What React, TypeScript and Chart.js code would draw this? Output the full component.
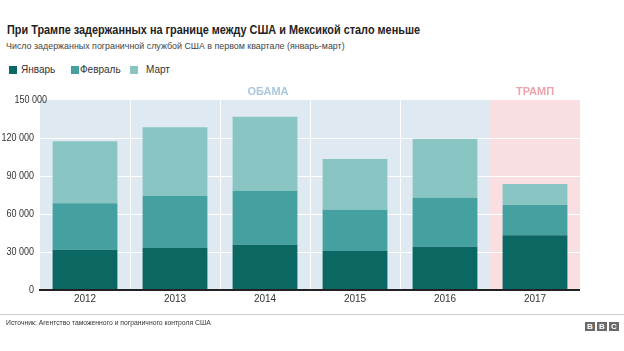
import React, { useEffect, useRef } from "react";
import { Chart, registerables } from "chart.js";

Chart.register(...registerables);

const years = ["2012", "2013", "2014", "2015", "2016", "2017"];
const january = [31800, 33200, 35800, 30800, 34200, 43200];
const february = [36600, 41000, 42600, 32600, 38700, 23900];
const march = [49000, 54200, 58400, 40000, 46600, 16600];
const yTicks = [0, 30000, 60000, 90000, 120000, 150000];
const yTickLabels = ["0", "30 000", "60 000", "90 000", "120 000", "150 000"];
const obamaYears = 5; // first 5 categories
const seriesNames = ["Январь", "Февраль", "Март"];
const seriesColors = ["#0b6762", "#45a19f", "#88c5c3"];

const FONT = "'Liberation Sans', Arial, Helvetica, sans-serif";

const decorPlugin = {
  id: "decor",
  beforeDatasetsDraw(chart: any) {
    const { ctx, chartArea } = chart;
    const x = chart.scales.x;
    const y = chart.scales.y;
    const top = y.getPixelForValue(150000);
    const bottom = y.getPixelForValue(0);
    const split = (x.getPixelForValue(obamaYears - 1) + x.getPixelForValue(obamaYears)) / 2;
    ctx.save();
    ctx.fillStyle = "#dfe9f1";
    ctx.fillRect(chartArea.left, top, split - chartArea.left, bottom - top);
    ctx.fillStyle = "#f9dfe1";
    ctx.fillRect(split, top, chartArea.right - split, bottom - top);
    ctx.strokeStyle = "#ffffff";
    ctx.lineWidth = 1;
    yTicks.forEach((v) => {
      if (v === 0 || v === 150000) return;
      const py = Math.round(y.getPixelForValue(v)) + 0.5;
      ctx.beginPath();
      ctx.moveTo(chartArea.left, py);
      ctx.lineTo(chartArea.right, py);
      ctx.stroke();
    });
    for (let i = 0; i < obamaYears - 1; i++) {
      const px = Math.round((x.getPixelForValue(i) + x.getPixelForValue(i + 1)) / 2) + 0.5;
      ctx.beginPath();
      ctx.moveTo(px, top);
      ctx.lineTo(px, bottom);
      ctx.stroke();
    }
    ctx.restore();
  },
  afterDatasetsDraw(chart: any) {
    const { ctx, chartArea } = chart;
    const x = chart.scales.x;
    const y = chart.scales.y;
    const top = y.getPixelForValue(150000);
    const bottom = y.getPixelForValue(0);
    const split = (x.getPixelForValue(obamaYears - 1) + x.getPixelForValue(obamaYears)) / 2;
    ctx.save();
    ctx.strokeStyle = "#222222";
    ctx.lineWidth = 2;
    ctx.beginPath();
    ctx.moveTo(chartArea.left - 1, bottom);
    ctx.lineTo(chartArea.right, bottom);
    ctx.stroke();

    ctx.font = `10px ${FONT}`;
    ctx.fillStyle = "#333333";
    ctx.textBaseline = "middle";
    ctx.textAlign = "right";
    yTicks.forEach((v, i) => {
      const py = y.getPixelForValue(v);
      const rx = v === 150000 ? chartArea.left + 7 : chartArea.left - 6;
      ctx.save();
      ctx.translate(rx, py);
      ctx.scale(0.9, 1);
      ctx.fillText(yTickLabels[i], 0, 0);
      ctx.restore();
    });
    ctx.textAlign = "center";
    years.forEach((lab, i) => {
      ctx.fillText(lab, x.getPixelForValue(i), bottom + 9);
    });

    ctx.font = `bold 11px ${FONT}`;
    ctx.fillStyle = "#a9c8dd";
    ctx.fillText("ОБАМА", (chartArea.left + split) / 2 + 3, top - 8);
    ctx.fillStyle = "#eba4ac";
    ctx.fillText("ТРАМП", (split + chartArea.right) / 2, top - 8);
    ctx.restore();
  },
};

export default function App() {
  const canvasRef = useRef<HTMLCanvasElement | null>(null);

  useEffect(() => {
    const seriesData = [january, february, march];
    const chart = new Chart(canvasRef.current as HTMLCanvasElement, {
      type: "bar",
      data: {
        labels: years,
        datasets: seriesNames.map((name, i) => ({
          label: name,
          data: seriesData[i],
          backgroundColor: seriesColors[i],
          borderWidth: 0,
          categoryPercentage: 1,
          barPercentage: 0.72,
        })),
      },
      options: {
        animation: false,
        responsive: false,
        maintainAspectRatio: false,
        layout: { padding: { left: 40, right: 44, top: 100, bottom: 61 } },
        plugins: {
          legend: { display: false },
          tooltip: { enabled: false },
          title: { display: false },
        },
        scales: {
          x: { stacked: true, display: false },
          y: { stacked: true, display: false, min: 0, max: 150000 },
        },
      },
      plugins: [decorPlugin],
    });
    return () => chart.destroy();
  }, []);

  const squareLefts = [9, 71, 130];
  const textLefts = [21, 80, 146];

  const bbcBox = (ch: string, left: number) => (
    <div
      key={left}
      style={{
        position: "absolute",
        left,
        top: 322,
        width: 10,
        height: 9,
        background: "#6a6a6a",
        color: "#fff",
        fontSize: 8,
        fontWeight: "bold",
        lineHeight: "9px",
        textAlign: "center",
      }}
    >
      {ch}
    </div>
  );

  return (
    <div
      style={{
        position: "fixed",
        left: 0,
        top: 0,
        width: 624,
        height: 351,
        background: "#ffffff",
        fontFamily: FONT,
        overflow: "hidden",
      }}
    >
      <div
        style={{
          position: "absolute",
          left: 7,
          top: 23,
          fontSize: 12.5,
          lineHeight: "14px",
          fontWeight: "bold",
          color: "#222",
          whiteSpace: "nowrap",
          transform: "scaleX(0.87)",
          transformOrigin: "left center",
        }}
      >
        При Трампе задержанных на границе между США и Мексикой стало меньше
      </div>
      <div
        style={{
          position: "absolute",
          left: 6,
          top: 40,
          fontSize: 9.5,
          lineHeight: "12px",
          color: "#444",
          whiteSpace: "nowrap",
          transform: "scaleX(0.935)",
          transformOrigin: "left center",
        }}
      >
        Число задержанных пограничной службой США в первом квартале (январь-март)
      </div>
      {seriesNames.map((n, i) => (
        <React.Fragment key={n}>
          <span style={{ position: "absolute", left: squareLefts[i], top: 66, width: 8, height: 8, background: seriesColors[i] }} />
          <span style={{ position: "absolute", left: textLefts[i], top: 64, fontSize: 10, lineHeight: "12px", color: "#333", whiteSpace: "nowrap" }}>{n}</span>
        </React.Fragment>
      ))}
      <canvas ref={canvasRef} width={624} height={351} style={{ position: "absolute", left: 0, top: 0, width: 624, height: 351 }} />
      <div style={{ position: "absolute", left: 0, top: 314, width: 624, height: 1, background: "#cccccc" }} />
      <div
        style={{
          position: "absolute",
          left: 6,
          top: 318,
          fontSize: 7,
          lineHeight: "9px",
          color: "#333",
          whiteSpace: "nowrap",
          transform: "scaleX(0.97)",
          transformOrigin: "left center",
        }}
      >
        Источник: Агентство таможенного и пограничного контроля США
      </div>
      {["B", "B", "C"].map((c, i) => bbcBox(c, 585 + i * 12))}
    </div>
  );
}
